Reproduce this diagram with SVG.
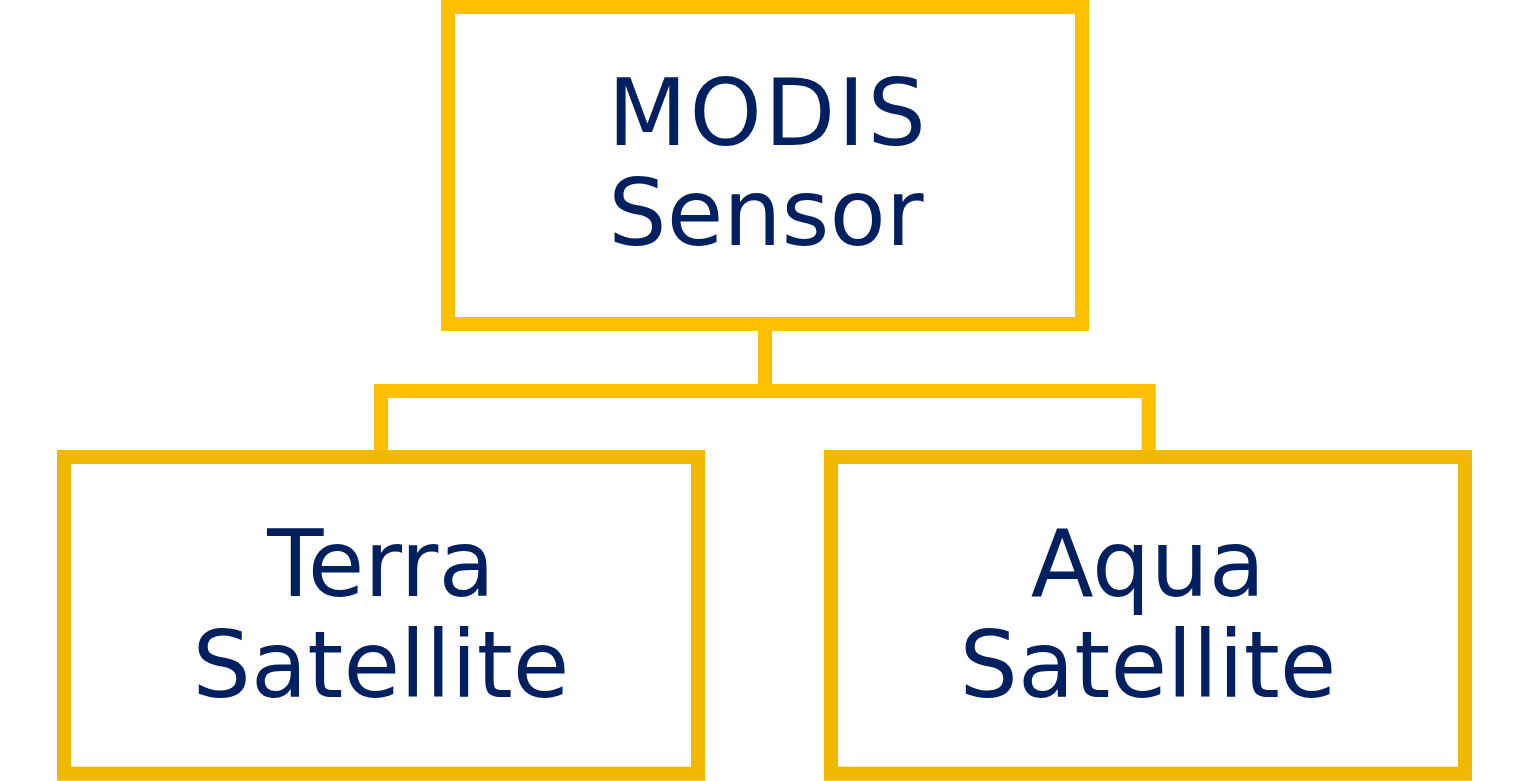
<svg xmlns="http://www.w3.org/2000/svg" width="1530" height="781" viewBox="0 0 1530 781">
<style>
.box{fill:#FFFFFF;stroke-width:14}
.top{stroke:#FFC000}
.bot{stroke:#F0B800}
.conn{fill:none;stroke:#FFC000;stroke-width:14}
.lbl{font-family:"DejaVu Sans","Liberation Sans",sans-serif;font-size:92px;fill:#002060;text-anchor:middle}
</style>
<rect width="1530" height="781" fill="#FFFFFF"/>
<g id="connectors">
<path class="conn" d="M765,331 V391 M374,391 H1155.7 M381,391 V450 M1148.7,391 V450"/>
</g>
<g id="modis">
<rect class="box top" x="448" y="7" width="634" height="317"/>
<text class="lbl" x="768" y="145" letter-spacing="2.5">MODIS</text>
<text class="lbl" x="766" y="245">Sensor</text>
</g>
<g id="terra">
<rect class="box bot" x="64" y="457" width="634" height="316.7"/>
<text class="lbl" x="381" y="596">Terra</text>
<text class="lbl" x="381" y="696.5">Satellite</text>
</g>
<g id="aqua">
<rect class="box bot" x="831" y="457" width="634" height="316.7"/>
<text class="lbl" x="1148" y="596">Aqua</text>
<text class="lbl" x="1148" y="696.5">Satellite</text>
</g>
</svg>
